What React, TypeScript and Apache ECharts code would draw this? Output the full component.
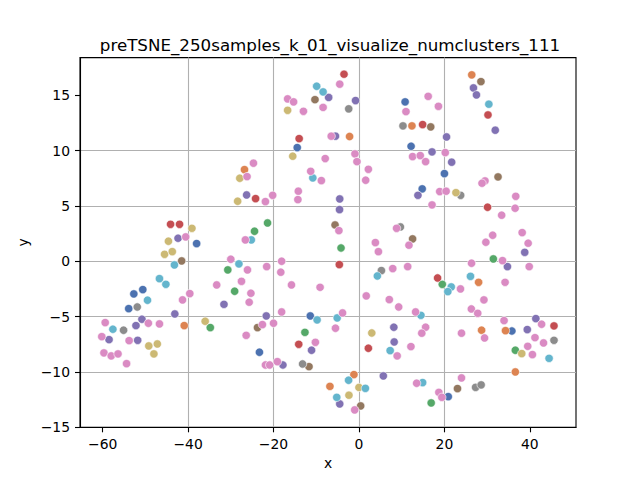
import { useEffect, useRef } from 'react';
import * as echarts from 'echarts';

const TITLE = 'preTSNE_250samples_k_01_visualize_numclusters_111';
const xTicks = [-60, -40, -20, 0, 20, 40];
const yTicks = [-15, -10, -5, 0, 5, 10, 15];

// points per colour, [x, y]
const bluePts = [
  [-38.0, 1.6], [-52.7, -2.95], [-50.6, -2.56], [-53.9, -4.28], [-14.45, 10.27],
  [-11.4, -4.94], [-23.3, -8.22], [10.8, 14.4], [12.2, 10.39], [20.0, 7.92],
  [14.8, 6.54], [20.9, -12.23], [35.8, -6.3],
];
const orangePts = [
  [-40.9, -5.81], [-26.8, 8.28], [-6.8, -11.3], [12.4, 12.23], [-2.2, 11.27],
  [-1.18, -10.24], [26.4, 16.84], [28.0, -1.9], [28.7, -6.23], [34.3, -6.27],
  [36.6, -10.0],
];
const greenPts = [
  [-34.8, -5.99], [-21.4, 3.46], [-24.45, 2.71], [-30.7, -0.78], [-29.1, -2.71],
  [-12.65, -6.42], [-4.2, 1.2], [19.5, -2.08], [16.9, -12.8], [31.45, 0.21],
  [36.6, -8.04],
];
const redPts = [
  [-44.1, 3.34], [-42.0, 3.34], [-14.0, 11.08], [-24.2, 5.66], [-14.1, -7.5],
  [-3.5, 16.9], [14.9, 12.35], [-4.6, -0.3], [18.4, -1.51], [2.2, -7.86],
  [30.2, 13.22], [30.1, 4.88], [45.65, -5.84],
];
const purplePts = [
  [-42.35, 2.08], [-43.1, -4.76], [-50.8, -5.24], [-52.2, -5.81], [-58.5, -7.08],
  [-51.8, -7.14], [-7.1, 14.8], [-26.3, 5.99], [-31.6, -3.89], [-21.7, -4.94],
  [-11.1, -8.04], [-17.8, -9.37], [-0.8, 14.52], [-5.5, 11.3], [20.5, 11.23],
  [17.1, 9.88], [21.7, 8.95], [13.8, 5.96], [-4.5, 5.63], [-4.55, 4.67],
  [8.16, -5.96], [8.24, -7.29], [5.7, -10.36], [-4.5, -12.89], [26.8, 15.66],
  [27.5, 15.03], [31.9, 11.84], [38.8, 0.81], [34.75, -0.48], [41.4, -5.18],
  [39.4, -6.17],
];
const brownPts = [
  [-41.5, 0.03], [-10.3, 14.6], [-23.75, -5.99], [-11.7, -9.52], [16.8, 12.14],
  [-5.6, 3.28], [12.55, 2.02], [0.4, -13.07], [28.55, 16.23], [32.55, 7.62],
  [23.06, -11.5],
];
const grayPts = [
  [-51.9, -4.13], [-55.1, -6.23], [-13.2, -9.28], [-2.4, 13.77], [10.3, 12.23],
  [9.7, 3.1], [5.25, -0.84], [23.8, 5.96], [45.65, -7.14], [27.3, -11.39],
  [28.6, -11.17],
];
const olivePts = [
  [-39.1, 2.98], [-44.6, 1.81], [-45.5, 0.63], [-43.7, 0.87], [-36.0, -5.42],
  [-49.2, -7.65], [-47.2, -7.47], [-48.0, -8.37], [-16.7, 13.64], [-15.5, 9.49],
  [-27.9, 7.5], [-28.4, 5.42], [22.7, 6.2], [3.0, -6.48], [0.0, -11.4],
  [-2.35, -12.1], [38.1, -8.34],
];
const cyanPts = [
  [-43.2, -0.33], [-46.7, -1.57], [-45.2, -2.08], [-49.5, -3.52], [-57.6, -6.14],
  [-9.9, 15.81], [-8.4, 15.3], [-10.8, 7.53], [-25.2, 1.93], [-28.1, -0.24],
  [-9.8, -5.3], [4.3, -1.33], [21.6, -2.32], [20.8, -2.74], [14.5, -4.88],
  [-5.1, -5.12], [7.3, -8.07], [-2.43, -10.75], [1.5, -11.48], [-5.2, -12.29],
  [14.9, -10.96], [30.4, 14.19], [26.1, -1.36], [44.5, -8.77],
];
const pinkPts = [
  [-40.55, 2.2], [-33.3, -2.14], [-39.6, -2.92], [-41.3, -3.49], [-59.4, -5.54],
  [-49.3, -5.6], [-46.7, -5.66], [-60.2, -6.81], [-53.8, -7.17], [-59.7, -8.28],
  [-58.0, -8.55], [-56.4, -8.37], [-54.4, -9.25],
  [-16.7, 14.67], [-15.3, 14.4], [-13.0, 13.55], [-8.4, 13.9], [-6.5, 11.3],
  [-7.9, 9.28], [-24.7, 8.86], [-26.2, 7.65], [-11.3, 8.13], [-8.8, 7.29],
  [-21.9, 5.39], [-20.2, 5.96], [-14.2, 6.33], [-14.3, 5.57], [-26.6, 1.93],
  [-30.0, 0.18], [-26.1, -0.78], [-21.6, -0.48], [-18.1, 0.0], [-18.3, -0.99],
  [-27.5, -1.81], [-25.3, -2.89], [-25.7, -3.7], [-15.8, -2.14], [-9.1, -2.35],
  [-18.1, -4.58], [-22.6, -5.72], [-20.0, -5.6], [-26.4, -6.69], [-10.2, -7.32],
  [-21.9, -9.37], [-20.9, -9.37], [-19.1, -9.07],
  [-4.5, 16.0], [16.2, 14.9], [18.6, 14.0], [11.0, 13.52], [-0.94, 9.7],
  [-0.47, 9.0], [2.2, 8.31], [1.57, 7.32], [12.55, 9.46], [14.35, 9.55],
  [15.6, 9.0], [20.2, 9.82], [18.9, 6.3], [20.4, 6.33], [17.1, 5.09],
  [-4.7, 2.77], [8.8, 2.98], [3.84, 1.69], [11.7, 1.45],
  [4.55, 0.87], [7.9, -0.66], [11.4, -0.48], [1.7, -3.13], [7.1, -3.46],
  [9.3, -4.13], [13.25, -4.58], [-3.84, -4.67], [-5.5, -6.05], [8.94, -8.55],
  [12.16, -7.71], [15.6, -5.96], [14.7, -6.5], [-1.0, -13.43], [13.5, -11.02],
  [18.7, -11.84], [19.4, -12.29],
  [29.5, 7.26], [28.8, 7.05], [36.7, 5.87], [36.55, 4.79], [33.4, 4.16],
  [31.3, 2.35], [38.2, 2.59], [29.7, 1.72], [39.6, 1.63],
  [33.6, 0.06], [26.35, -0.18], [39.85, -0.48], [34.2, -1.9], [23.76, -2.5],
  [29.25, -3.49], [26.3, -4.31], [27.8, -4.7], [33.96, -5.36], [42.75, -5.69],
  [24.0, -6.5], [29.4, -6.93], [41.2, -6.9], [43.2, -7.38], [39.5, -7.68],
  [40.6, -8.43], [24.0, -10.54],
];

const groups: [string, string, number[][]][] = [
  ['blue', '#4C72B0', bluePts],
  ['orange', '#DD8452', orangePts],
  ['green', '#55A868', greenPts],
  ['red', '#C44E52', redPts],
  ['purple', '#8172B3', purplePts],
  ['brown', '#937860', brownPts],
  ['gray', '#8C8C8C', grayPts],
  ['olive', '#CCB974', olivePts],
  ['cyan', '#64B5CD', cyanPts],
  ['pink', '#DA8BC3', pinkPts],
];

const FONT = 'DejaVu Sans';
const fmt = (v: number) => String(v).replace('-', '\u2212');

export default function App() {
  const divRef = useRef<HTMLDivElement>(null);

  useEffect(() => {
    if (!divRef.current) return;
    const chart = echarts.init(divRef.current, undefined, { renderer: 'svg' });

    const labelStyle = { fontFamily: FONT, fontSize: 13.9, color: '#000' };

    chart.setOption({
      animation: false,
      title: {
        text: TITLE,
        left: 325,
        top: 31,
        textAlign: 'center',
        textStyle: { fontFamily: FONT, fontSize: 16.7, fontWeight: 'normal', color: '#000' },
      },
      grid: {
        left: 80, right: 64, top: 57.6, bottom: 52.7,
        show: true, borderColor: '#000', borderWidth: 1.1, backgroundColor: 'transparent',
      },
      xAxis: {
        type: 'value',
        min: -65.3,
        max: 50.8,
        name: 'x',
        nameLocation: 'middle',
        nameGap: 27,
        nameTextStyle: labelStyle,
        axisLine: { show: true, onZero: false, lineStyle: { color: '#000', width: 1.1 } },
        axisTick: { show: true, customValues: xTicks, length: 5, lineStyle: { color: '#000', width: 1.1 } },
        axisLabel: { customValues: xTicks, formatter: fmt, margin: 10, ...labelStyle },
        splitLine: { show: true, showMinLine: false, showMaxLine: false, lineStyle: { color: '#b0b0b0', width: 1.1 } },
      },
      yAxis: {
        type: 'value',
        min: -15,
        max: 18.4,
        name: 'y',
        nameLocation: 'middle',
        nameGap: 40,
        nameTextStyle: labelStyle,
        axisLine: { show: true, onZero: false, lineStyle: { color: '#000', width: 1.1 } },
        axisTick: { show: true, customValues: yTicks, length: 5, lineStyle: { color: '#000', width: 1.1 } },
        axisLabel: { customValues: yTicks, formatter: fmt, margin: 10, ...labelStyle },
        splitLine: { show: true, showMinLine: false, showMaxLine: false, lineStyle: { color: '#b0b0b0', width: 1.1 } },
      },
      series: groups.map(([name, color, pts]) => ({
        name,
        type: 'scatter',
        data: pts,
        symbol: 'circle',
        symbolSize: 8.3,
        itemStyle: { color, borderColor: '#fff', borderWidth: 0.6, opacity: 1 },
        emphasis: { disabled: true },
      })),
    });

    return () => chart.dispose();
  }, []);

  return (
    <div style={{ position: 'absolute', left: 0, top: 0, width: 640, height: 480, background: '#fff' }}>
      <div ref={divRef} style={{ width: 640, height: 480 }} />
    </div>
  );
}
